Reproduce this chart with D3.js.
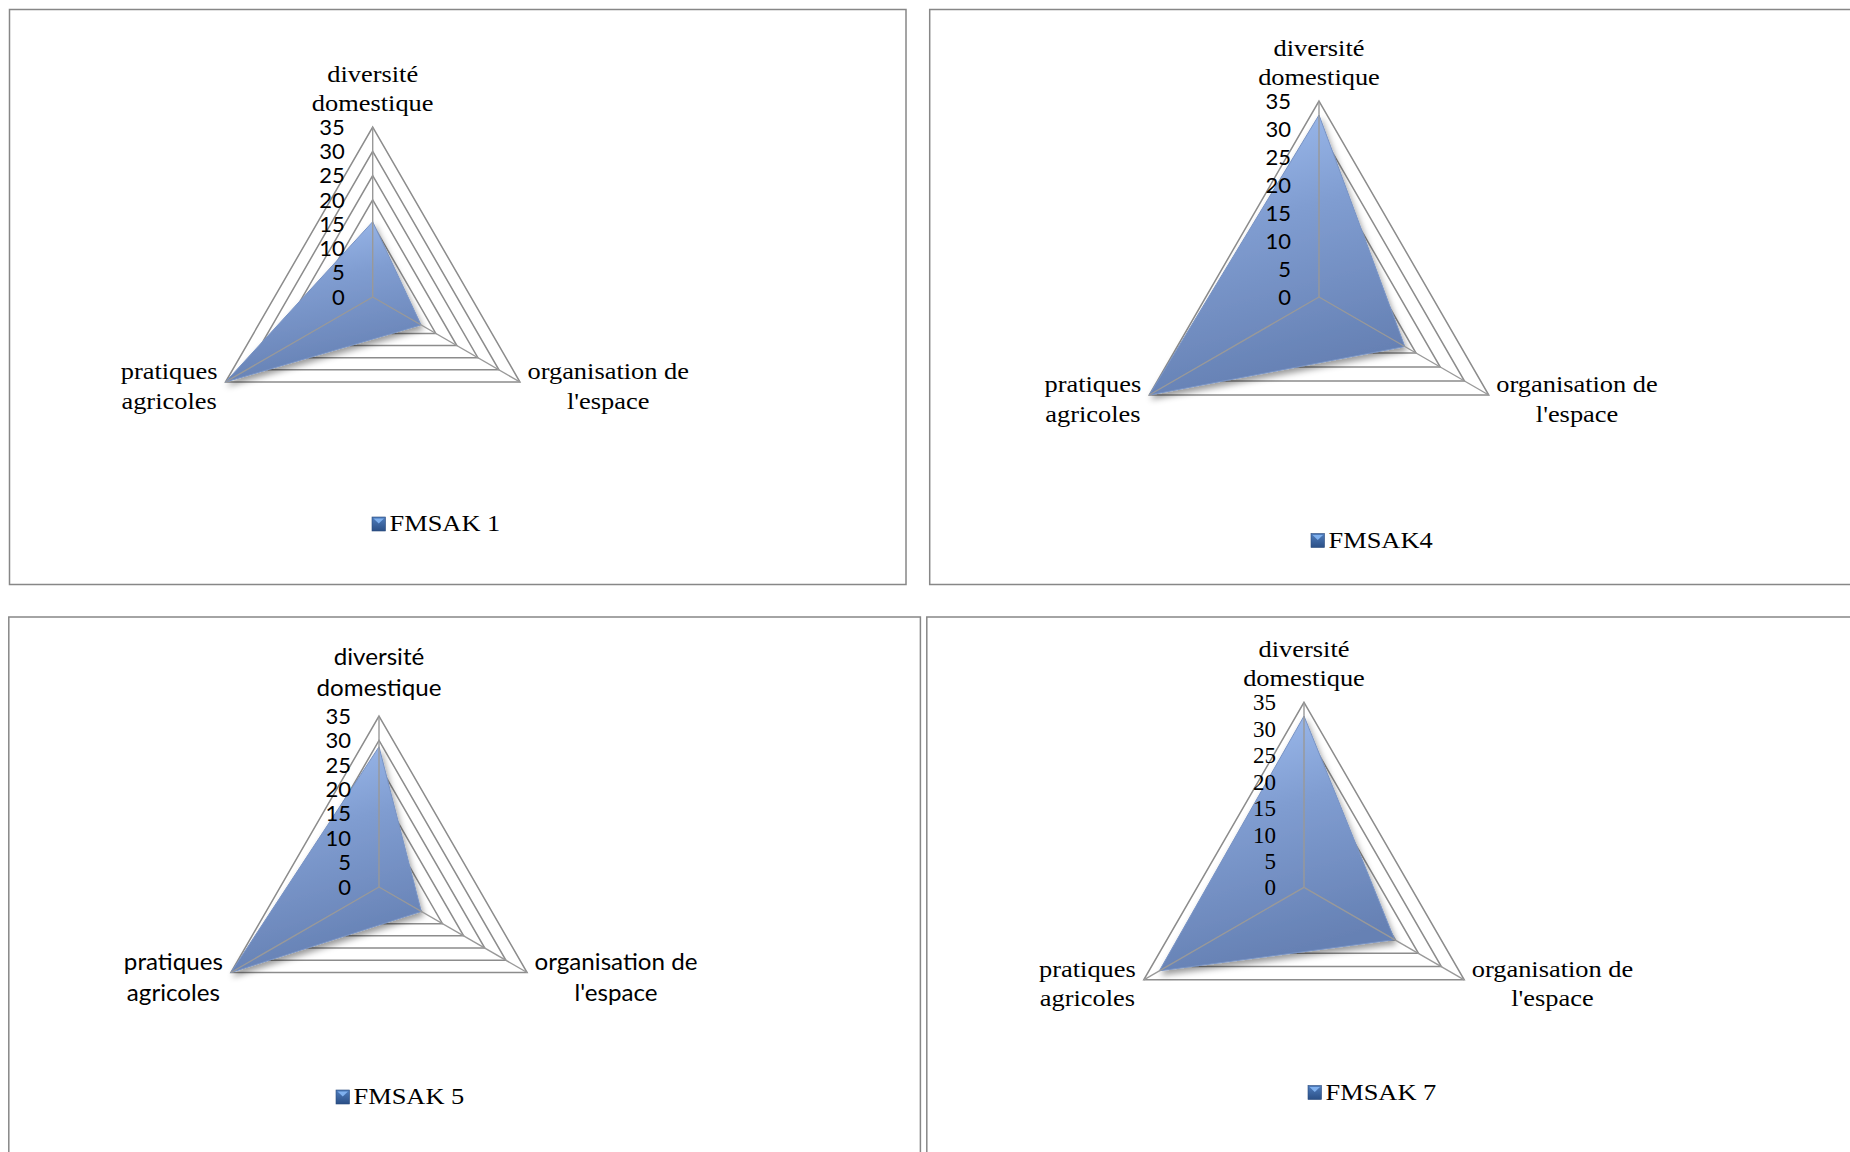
<!DOCTYPE html>
<html>
<head>
<meta charset="utf-8">
<script src="https://cdn.jsdelivr.net/npm/d3@7"></script>
<style>
  body { margin: 0; background: #fff; }
  svg { display: block; }
</style>
</head>
<body>
<svg id="chart" width="1850" height="1152"></svg>
<script>
// Axis categories (two-line labels), clockwise from the top
const categories = [
  ["diversité", "domestique"],
  ["organisation de", "l'espace"],
  ["pratiques", "agricoles"]
];
const seriesNames = ["FMSAK 1", "FMSAK4", "FMSAK 5", "FMSAK 7"];
// Scores per category: diversité domestique, organisation de l'espace, pratiques agricoles
const fmsak1 = [15.5, 11.5, 35];
const fmsak4 = [32.5, 17.7, 35];
const fmsak5 = [28.7, 10, 35];
const fmsak7 = [32.4, 19.8, 31.6];
const tickValues = [0, 5, 10, 15, 20, 25, 30, 35];
const axisMax = 35;

const FONTS = {
  serif: { family: "'Liberation Serif','Times New Roman',serif", size: 24, sx: 1.1, lh: 29.5, topOff: 16 },
  sans:  { family: "Lato, 'Open Sans', sans-serif", size: 23, sx: 1.05, lh: 31, topOff: 20 },
  tickSans:  { family: "Lato, 'Open Sans', sans-serif", size: 22 },
  tickSerif: { family: "'Liberation Serif','Times New Roman',serif", size: 23 }
};

// One radar per panel
const panels = [
  { values: fmsak1, name: seriesNames[0], frame: [9.5, 9.5, 896.5, 575], cx: 372.7, cy: 297, r: 170,
    catFont: "serif", tickFont: "tickSans", legend: [372, 517] },
  { values: fmsak4, name: seriesNames[1], frame: [929.7, 9.5, 1000, 575], cx: 1319, cy: 297, r: 196,
    catFont: "serif", tickFont: "tickSans", legend: [1311, 533.5] },
  { values: fmsak5, name: seriesNames[2], frame: [8.8, 617, 911.6, 600], cx: 379, cy: 887, r: 171,
    catFont: "sans", tickFont: "tickSans", legend: [336, 1090] },
  { values: fmsak7, name: seriesNames[3], frame: [926.8, 617, 1000, 600], cx: 1304, cy: 887.3, r: 185,
    catFont: "serif", tickFont: "tickSerif", legend: [1308, 1085.5] }
];

const svg = d3.select("#chart");
const defs = svg.append("defs");

const grad = defs.append("linearGradient").attr("id", "areaFill")
  .attr("x1", 0).attr("y1", 0).attr("x2", 0.25).attr("y2", 1);
grad.append("stop").attr("offset", "0%").attr("stop-color", "#a2c0f2");
grad.append("stop").attr("offset", "45%").attr("stop-color", "#809dd1");
grad.append("stop").attr("offset", "100%").attr("stop-color", "#6681b4");

const legGrad = defs.append("linearGradient").attr("id", "legendFill")
  .attr("x1", 0).attr("y1", 0).attr("x2", 0).attr("y2", 1);
legGrad.append("stop").attr("offset", "0%").attr("stop-color", "#4f7dbd");
legGrad.append("stop").attr("offset", "100%").attr("stop-color", "#2b4f86");

const shadow = defs.append("filter").attr("id", "areaShadow")
  .attr("x", "-20%").attr("y", "-20%").attr("width", "140%").attr("height", "140%");
shadow.append("feDropShadow").attr("dx", 2).attr("dy", 4)
  .attr("stdDeviation", 3).attr("flood-color", "#000").attr("flood-opacity", 0.4);

const angleOf = i => i * 2 * Math.PI / categories.length;

function drawText(g, lines, x0, y0, font, anchor, lh) {
  const t = g.append("g");
  lines.forEach((ln, i) => {
    t.append("text")
      .attr("transform", `translate(${x0},${y0 + i * lh}) scale(${font.sx || 1},1)`)
      .attr("text-anchor", anchor)
      .attr("font-family", font.family)
      .attr("font-size", font.size)
      .attr("fill", "#000")
      .text(ln);
  });
  return t;
}

// Centre a multi-line block horizontally on the block's own width
function blockLabel(g, lines, edgeX, y0, font, side) {
  const widths = lines.map(ln => {
    const tmp = g.append("text").attr("font-family", font.family).attr("font-size", font.size).text(ln);
    const w = tmp.node().getComputedTextLength() * (font.sx || 1);
    tmp.remove();
    return w;
  });
  const maxW = d3.max(widths);
  const centerX = side === "right" ? edgeX + maxW / 2 : edgeX - maxW / 2;
  drawText(g, lines, centerX, y0, font, "middle", font.lh);
}

panels.forEach(p => {
  const g = svg.append("g");
  const [fx, fy, fw, fh] = p.frame;
  g.append("rect").attr("x", fx).attr("y", fy).attr("width", fw).attr("height", fh)
    .attr("fill", "none").attr("stroke", "#878787").attr("stroke-width", 1.5);

  const rScale = d3.scaleLinear().domain([0, axisMax]).range([0, p.r]);
  const plot = g.append("g").attr("transform", `translate(${p.cx},${p.cy})`);

  const ring = d3.lineRadial()
    .angle((d, i) => angleOf(i))
    .radius(d => rScale(d))
    .curve(d3.curveLinearClosed);

  // concentric grid triangles
  plot.selectAll("path.ring")
    .data(tickValues.filter(v => v > 0))
    .join("path")
    .attr("class", "ring")
    .attr("d", v => ring(categories.map(() => v)))
    .attr("fill", "none")
    .attr("stroke", "#8c8c8c")
    .attr("stroke-width", 1.5);

  // filled series area
  plot.append("path")
    .attr("d", ring(p.values))
    .attr("fill", "url(#areaFill)")
    .attr("stroke", "#7893c4")
    .attr("stroke-width", 1)
    .attr("filter", "url(#areaShadow)");

  // spokes
  plot.selectAll("line.spoke")
    .data(categories)
    .join("line")
    .attr("class", "spoke")
    .attr("x1", 0).attr("y1", 0)
    .attr("x2", (d, i) => rScale(axisMax) * Math.sin(angleOf(i)))
    .attr("y2", (d, i) => -rScale(axisMax) * Math.cos(angleOf(i)))
    .attr("stroke", "#999")
    .attr("stroke-width", 1.4);

  // value axis labels along the top spoke
  const tf = FONTS[p.tickFont];
  plot.selectAll("text.tick")
    .data(tickValues)
    .join("text")
    .attr("class", "tick")
    .attr("x", -28)
    .attr("y", v => -rScale(v))
    .attr("dy", "0.35em")
    .attr("text-anchor", "end")
    .attr("font-family", tf.family)
    .attr("font-size", tf.size)
    .attr("fill", "#000")
    .text(v => v);

  // category labels
  const cf = FONTS[p.catFont];
  const vtx = categories.map((c, i) => [
    p.cx + rScale(axisMax) * Math.sin(angleOf(i)),
    p.cy - rScale(axisMax) * Math.cos(angleOf(i))
  ]);
  const top = categories[0];
  drawText(g, top, vtx[0][0], vtx[0][1] - cf.topOff - (top.length - 1) * cf.lh, cf, "middle", cf.lh);
  blockLabel(g, categories[1], vtx[1][0] + 7.5, vtx[1][1] - 3, cf, "right");
  blockLabel(g, categories[2], vtx[2][0] - 8, vtx[2][1] - 3, cf, "left");

  // legend
  const [lx, ly] = p.legend;
  const lg = g.append("g").attr("transform", `translate(${lx},${ly})`);
  lg.append("rect").attr("width", 13.5).attr("height", 14)
    .attr("fill", "url(#legendFill)").attr("stroke", "#2a4a7c").attr("stroke-width", 0.6);
  lg.append("path").attr("d", "M1.5,1.5 L12,1.5 L6.75,6.5 Z").attr("fill", "#7fb0ee");
  drawText(lg, [p.name], 17.5, 14, FONTS.serif, "start", 0);
});
</script>
</body>
</html>
